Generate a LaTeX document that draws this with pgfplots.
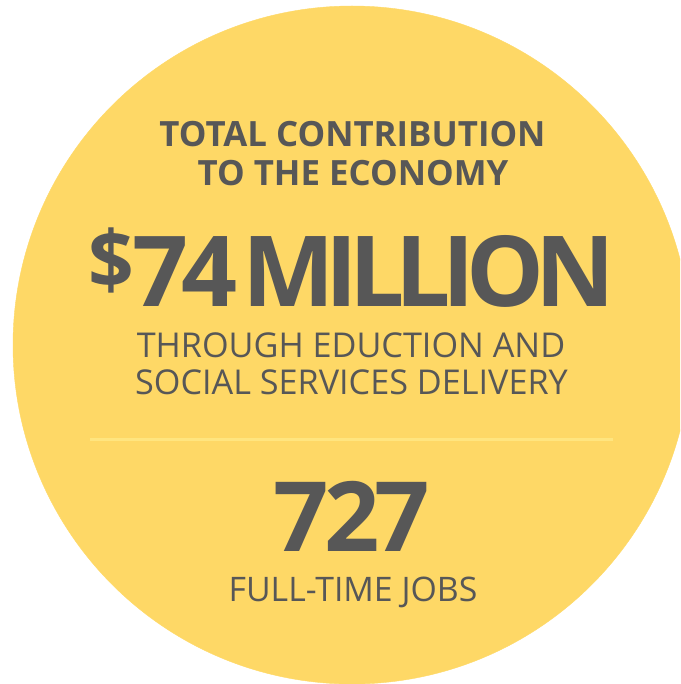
\documentclass[border=0pt]{standalone}
\usepackage{fontspec}
\setmainfont{Open Sans}
\newfontfamily\bignum{Open Sans}[LetterSpace=-7]
\newfontfamily\bigword{Open Sans}[LetterSpace=-9]
\newfontfamily\jobsnum{Open Sans}[LetterSpace=-5]
\usepackage{pgfplots}
\pgfplotsset{compat=1.18}
\definecolor{disc}{HTML}{FED866}
\definecolor{ink}{HTML}{575757}
\definecolor{rule}{HTML}{FFE57F}

\begin{document}
\begin{tikzpicture}
\begin{axis}[
    name=main,
    width=680pt, height=684pt,
    scale only axis,
    xmin=0, xmax=680,
    ymin=0, ymax=684,
    y dir=reverse,
    hide axis,
    clip=true,
    clip marker paths=true,
]
% the disc, one point with a 339 px radius mark
\addplot[disc, only marks, mark=*, mark size=339pt]
coordinates {(352,345)};

% separator
\addplot[rule, line width=3pt] coordinates {(90,439.5) (613,439.5)};

\begin{scope}[every node/.style={anchor=base, inner sep=0pt, text=ink}]
\node at (axis cs:352.5,147) {\fontsize{34.8}{40}\selectfont\bfseries TOTAL CONTRIBUTION};
\node at (axis cs:353,186) {\fontsize{34.8}{40}\selectfont\bfseries TO THE ECONOMY};
\node[anchor=base east] at (axis cs:134,288) {\bignum\bfseries\fontsize{80}{80}\selectfont\$};
\node[anchor=base west] at (axis cs:132,306) {\bignum\bfseries\fontsize{98}{98}\selectfont 74};
\node[anchor=base west] at (axis cs:242,306) {\bigword\bfseries\fontsize{98}{98}\selectfont MILLION};
\node at (axis cs:351,357) {\fontsize{34.2}{37}\selectfont THROUGH EDUCTION AND};
\node at (axis cs:351.5,394) {\fontsize{34.2}{37}\selectfont SOCIAL SERVICES DELIVERY};
\node at (axis cs:352,551) {\jobsnum\bfseries\fontsize{97}{97}\selectfont 727};
\node at (axis cs:353,601) {\fontsize{33.8}{36}\selectfont FULL-TIME JOBS};
\end{scope}
\end{axis}
\pgfresetboundingbox
\useasboundingbox (main.south west) rectangle (main.north east);
\end{tikzpicture}
\end{document}
